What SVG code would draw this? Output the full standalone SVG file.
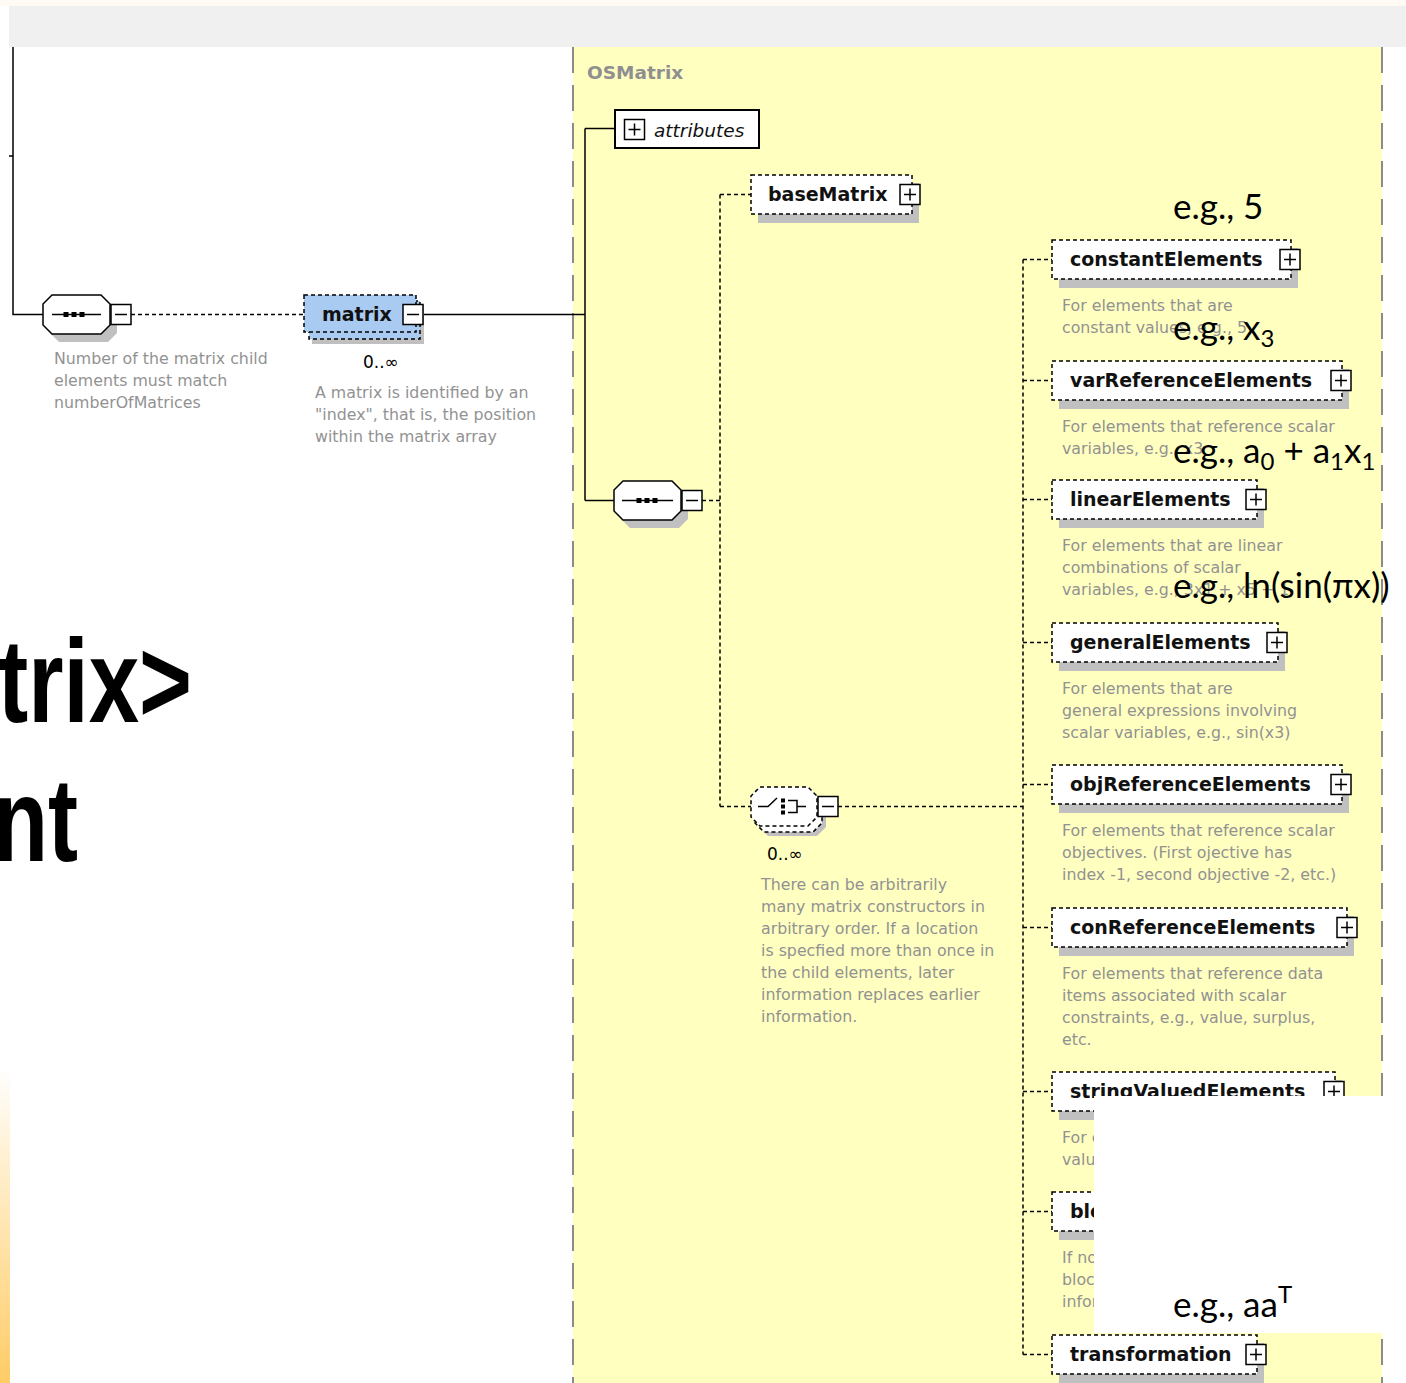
<svg xmlns="http://www.w3.org/2000/svg" width="1406" height="1383" viewBox="0 0 1406 1383">
  <defs>
    <linearGradient id="edgeGlow" x1="0" y1="0" x2="0" y2="1">
      <stop offset="0" stop-color="#FFCC66" stop-opacity="0"/>
      <stop offset="1" stop-color="#FFCC66"/>
    </linearGradient>
    <g id="plus">
      <rect x="0" y="0" width="20" height="20" fill="#fff" stroke="#000" stroke-width="1.5"/>
      <path d="M4 10H16M10 4V16" stroke="#000" stroke-width="1.5"/>
    </g>
    <g id="minus">
      <rect x="0" y="0" width="20" height="20" fill="#fff" stroke="#000" stroke-width="1.5"/>
      <path d="M4 10H16" stroke="#000" stroke-width="1.5"/>
    </g>
  </defs>
  <style>
    .frame{fill:none;stroke:#8c8c8c;stroke-width:2;stroke-dasharray:26 12}
    .solid{fill:none;stroke:#000;stroke-width:1.5}
    .dash{fill:none;stroke:#000;stroke-width:1.5;stroke-dasharray:4 3}
    .shadow{fill:#C0C0C0}
    .box{fill:#fff;stroke:#000;stroke-width:1.5;stroke-dasharray:4 3}
    .sel{fill:#A9CBF2;stroke:#000;stroke-width:1.5;stroke-dasharray:4 3}
    .ink{fill:#000}
    .name{font-family:"DejaVu Sans",sans-serif;font-weight:bold;font-size:19px;fill:#111}
    .doc{font-family:"DejaVu Sans",sans-serif;font-size:15.8px;fill:#929292}
    .occ{font-family:"DejaVu Sans",sans-serif;font-size:17px;fill:#000}
    .note{font-family:Lato,"Open Sans",sans-serif;font-size:35px;fill:#000}
    .big{font-family:"Liberation Sans Narrow","Liberation Sans",sans-serif;font-weight:bold;font-size:118px;fill:#000}
  </style>

  <!-- page background -->
  <rect x="0" y="0" width="1406" height="1383" fill="#fff"/>
  <rect x="0" y="0" width="1406" height="6" fill="#FFFAF4"/>
  <rect x="9" y="6" width="1397" height="41" fill="#F0F0F0"/>
  <rect x="0" y="1065" width="10" height="318" fill="url(#edgeGlow)"/>

  <!-- complex type area -->
  <rect x="573" y="47" width="809" height="1336" fill="#FFFFC0"/>
  <path class="frame" d="M573 47V1383M1382 47V1383"/>
  <text x="587" y="79" font-family="DejaVu Sans, sans-serif" font-weight="bold" font-size="18.5" fill="#8f8f8f">OSMatrix</text>

  <!-- slide heading fragments -->
  <text class="big" x="-2" y="722" textLength="194" lengthAdjust="spacingAndGlyphs">trix&gt;</text>
  <text class="big" x="-7" y="861" textLength="85" lengthAdjust="spacingAndGlyphs">nt</text>

  <!-- connectors -->
  <g id="connectors">
    <path class="solid" d="M13 47V314.5H43M9 156H13"/>
    <path class="dash" d="M131 314.5H304"/>
    <path class="solid" d="M423 314.5H585M585 128.5V500.5M585 128.5H615M585 500.5H614"/>
    <path class="dash" d="M702 500.5H720M720 194.5V806.5M720 194.5H751M720 806.5H751M838 806.5H1023"/>
    <path class="dash" d="M1023 259.5V1354.5M1023 259.5H1052M1023 380.5H1052M1023 499.5H1052M1023 642.5H1052M1023 784.5H1052M1023 927.5H1052M1023 1091.5H1052M1023 1211.5H1052M1023 1354.5H1052"/>
  </g>

  <!-- sequence compositor for matrix children -->
  <g id="node-outer-sequence">
    <path class="shadow" d="M59 303H108L117 312V333L108 342H59L50 333V312Z"/>
    <path d="M52 295H101L110 304V325L101 334H52L43 325V304Z" fill="#fff" stroke="#000" stroke-width="1.5"/>
    <path class="solid" d="M52 314.5H101"/>
    <rect class="ink" x="63.5" y="312" width="5" height="5"/>
    <rect class="ink" x="71.5" y="312" width="5" height="5"/>
    <rect class="ink" x="79.5" y="312" width="5" height="5"/>
    <use href="#minus" x="111" y="304.5"/>
    <text class="doc" x="54" y="364">Number of the matrix child</text>
    <text class="doc" x="54" y="386">elements must match</text>
    <text class="doc" x="54" y="408">numberOfMatrices</text>
  </g>

  <!-- matrix element (repeating) -->
  <g id="node-matrix">
    <rect class="shadow" x="312" y="305" width="112" height="39"/>
    <rect class="sel" x="309" y="301" width="111" height="38"/>
    <rect class="sel" x="304" y="295" width="112" height="37"/>
    <text class="name" x="322" y="321">matrix</text>
    <use href="#minus" x="403" y="304.5"/>
    <text class="occ" x="363" y="368">0..∞</text>
    <text class="doc" x="315" y="398">A matrix is identified by an</text>
    <text class="doc" x="315" y="420">"index", that is, the position</text>
    <text class="doc" x="315" y="442">within the matrix array</text>
  </g>

  <!-- attributes -->
  <g id="node-attributes">
    <rect x="615" y="110" width="144" height="38" fill="#fff" stroke="#000" stroke-width="2"/>
    <use href="#plus" x="624.5" y="119.5"/>
    <text x="654" y="137" font-family="DejaVu Sans, sans-serif" font-style="italic" font-size="18.5" fill="#111">attributes</text>
  </g>

  <!-- sequence inside OSMatrix -->
  <g id="node-sequence">
    <path class="shadow" d="M630 489H679L688 498V519L679 528H630L621 519V498Z"/>
    <path d="M623 481H672L681 490V511L672 520H623L614 511V490Z" fill="#fff" stroke="#000" stroke-width="1.5"/>
    <path class="solid" d="M622 500.5H673"/>
    <rect class="ink" x="636.5" y="498" width="5" height="5"/>
    <rect class="ink" x="644.5" y="498" width="5" height="5"/>
    <rect class="ink" x="652.5" y="498" width="5" height="5"/>
    <use href="#minus" x="682" y="490.5"/>
  </g>

  <!-- baseMatrix -->
  <g id="node-baseMatrix">
    <rect class="shadow" x="758" y="183" width="161" height="40"/>
    <rect class="box" x="751" y="175" width="161" height="39"/>
    <text class="name" x="768" y="201">baseMatrix</text>
    <use href="#plus" x="900" y="184.5"/>
  </g>

  <!-- choice of matrix constructors -->
  <g id="node-choice">
    <path class="shadow" d="M768 797H817L826 806V827L817 836H768L759 827V806Z"/>
    <path d="M764 793H813L822 802V823L813 832H764L755 823V802Z" fill="#fff" stroke="#000" stroke-width="1.5" stroke-dasharray="4 3"/>
    <path d="M760 787H808L817 796V817L808 826H760L751 817V796Z" fill="#fff" stroke="#000" stroke-width="1.5" stroke-dasharray="4 3"/>
    <path class="solid" d="M758 806.5H768L777 798"/>
    <rect class="ink" x="781" y="798.5" width="4" height="4"/>
    <rect class="ink" x="781" y="804.5" width="4" height="4"/>
    <rect class="ink" x="781" y="810.5" width="4" height="4"/>
    <path class="solid" d="M788 800.5H797V812.5H788M797 806.5H806"/>
    <use href="#minus" x="818" y="796.5"/>
    <text class="occ" x="767" y="860">0..∞</text>
    <text class="doc" x="761" y="890">There can be arbitrarily</text>
    <text class="doc" x="761" y="912">many matrix constructors in</text>
    <text class="doc" x="761" y="934">arbitrary order. If a location</text>
    <text class="doc" x="761" y="956">is specfied more than once in</text>
    <text class="doc" x="761" y="978">the child elements, later</text>
    <text class="doc" x="761" y="1000">information replaces earlier</text>
    <text class="doc" x="761" y="1022">information.</text>
  </g>

  <!-- constructor elements -->
  <g id="node-constantElements">
    <rect class="shadow" x="1059" y="248" width="239" height="40"/>
    <rect class="box" x="1052" y="240" width="239" height="39"/>
    <text class="name" x="1070" y="266">constantElements</text>
    <use href="#plus" x="1280" y="249.5"/>
    <text class="doc" x="1062" y="311">For elements that are</text>
    <text class="doc" x="1062" y="333">constant values, e.g., 5</text>
  </g>

  <g id="node-varReferenceElements">
    <rect class="shadow" x="1059" y="369" width="290" height="40"/>
    <rect class="box" x="1052" y="361" width="290" height="39"/>
    <text class="name" x="1070" y="387">varReferenceElements</text>
    <use href="#plus" x="1331" y="370.5"/>
    <text class="doc" x="1062" y="432">For elements that reference scalar</text>
    <text class="doc" x="1062" y="454">variables, e.g., x3</text>
  </g>

  <g id="node-linearElements">
    <rect class="shadow" x="1059" y="488" width="205" height="40"/>
    <rect class="box" x="1052" y="480" width="205" height="39"/>
    <text class="name" x="1070" y="506">linearElements</text>
    <use href="#plus" x="1246" y="489.5"/>
    <text class="doc" x="1062" y="551">For elements that are linear</text>
    <text class="doc" x="1062" y="573">combinations of scalar</text>
    <text class="doc" x="1062" y="595">variables, e.g., 3x1 + x5 + 1</text>
  </g>

  <g id="node-generalElements">
    <rect class="shadow" x="1059" y="631" width="226" height="40"/>
    <rect class="box" x="1052" y="623" width="226" height="39"/>
    <text class="name" x="1070" y="649">generalElements</text>
    <use href="#plus" x="1267" y="632.5"/>
    <text class="doc" x="1062" y="694">For elements that are</text>
    <text class="doc" x="1062" y="716">general expressions involving</text>
    <text class="doc" x="1062" y="738">scalar variables, e.g., sin(x3)</text>
  </g>

  <g id="node-objReferenceElements">
    <rect class="shadow" x="1059" y="773" width="290" height="40"/>
    <rect class="box" x="1052" y="765" width="290" height="39"/>
    <text class="name" x="1070" y="791">objReferenceElements</text>
    <use href="#plus" x="1331" y="774.5"/>
    <text class="doc" x="1062" y="836">For elements that reference scalar</text>
    <text class="doc" x="1062" y="858">objectives. (First ojective has</text>
    <text class="doc" x="1062" y="880">index -1, second objective -2, etc.)</text>
  </g>

  <g id="node-conReferenceElements">
    <rect class="shadow" x="1059" y="916" width="295" height="40"/>
    <rect class="box" x="1052" y="908" width="295" height="39"/>
    <text class="name" x="1070" y="934">conReferenceElements</text>
    <use href="#plus" x="1337" y="917.5"/>
    <text class="doc" x="1062" y="979">For elements that reference data</text>
    <text class="doc" x="1062" y="1001">items associated with scalar</text>
    <text class="doc" x="1062" y="1023">constraints, e.g., value, surplus,</text>
    <text class="doc" x="1062" y="1045">etc.</text>
  </g>

  <g id="node-stringValuedElements">
    <rect class="shadow" x="1059" y="1080" width="283" height="40"/>
    <rect class="box" x="1052" y="1072" width="283" height="39"/>
    <text class="name" x="1070" y="1098">stringValuedElements</text>
    <use href="#plus" x="1324" y="1081.5"/>
    <text class="doc" x="1062" y="1143">For elements that are string</text>
    <text class="doc" x="1062" y="1165">values</text>
  </g>

  <g id="node-blocks">
    <rect class="shadow" x="1059" y="1200" width="120" height="40"/>
    <rect class="box" x="1052" y="1192" width="120" height="39"/>
    <text class="name" x="1070" y="1218">blocks</text>
    <text class="doc" x="1062" y="1263">If no</text>
    <text class="doc" x="1062" y="1285">blocks</text>
    <text class="doc" x="1062" y="1307">information</text>
  </g>

  <g id="node-transformation">
    <rect class="shadow" x="1059" y="1343" width="205" height="40"/>
    <rect class="box" x="1052" y="1335" width="205" height="39"/>
    <text class="name" x="1070" y="1361">transformation</text>
    <use href="#plus" x="1246" y="1344.5"/>
  </g>

  <!-- example annotations -->
  <rect x="1094" y="1096" width="312" height="237" fill="#fff"/>
  <g id="examples" class="note">
    <text x="1173" y="219">e.g., 5</text>
    <text x="1173" y="340">e.g., x<tspan font-size="24" dy="7">3</tspan></text>
    <text x="1173" y="463">e.g., a<tspan font-size="24" dy="7">0</tspan><tspan dy="-7"> + a</tspan><tspan font-size="24" dy="7">1</tspan><tspan dy="-7">x</tspan><tspan font-size="24" dy="7">1</tspan></text>
    <text x="1173" y="598">e.g., ln(sin(πx))</text>
    <text x="1173" y="1317">e.g., aa<tspan font-size="24" dy="-14">T</tspan></text>
  </g>
</svg>
